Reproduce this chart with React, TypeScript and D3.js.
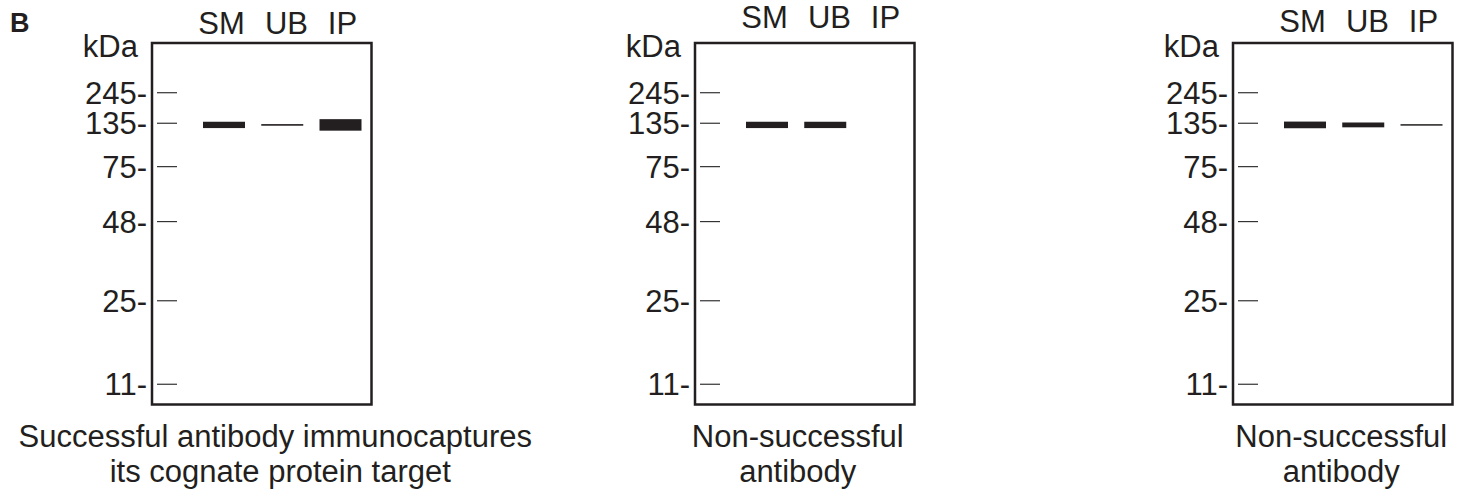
import React from "react";
import * as d3 from "d3";

// ---- data ----
const lanes = ["SM", "UB", "IP"];
const markerKDa = [245, 135, 75, 48, 25, 11];
// relative migration (0 = top of gel, 1 = bottom) of each marker
const markerRf = [0.1375, 0.222, 0.342, 0.494, 0.713, 0.944];
const bandKDa = 132;
// band intensity per lane (SM, UB, IP), relative units
const panel1Intensity = [0.55, 0.14, 1.0];
const panel2Intensity = [0.55, 0.55, 0];
const panel3Intensity = [0.58, 0.42, 0.13];
const panel1Caption = ["Successful antibody immunocaptures", "its cognate protein target"];
const panel2Caption = ["Non-successful", "antibody"];
const panel3Caption = ["Non-successful", "antibody"];
const panelLetter = "B";
const unitLabel = "kDa";

const W = 1468;
const H = 496;
const INK = "#231f20";
const FONT = "'Liberation Sans', Arial, Helvetica, sans-serif";
const FS = 31;

const boxTop = 43;
const boxBottom = 404.5;
const boxW = 219.5;

const yRf = d3.scaleLinear().domain([0, 1]).range([boxTop, boxBottom]);
const kdaToRf = d3.scaleLog().domain(markerKDa).range(markerRf);
const bandX = d3.scalePoint<string>().domain(lanes).range([72, 188.5]);
const labelX = d3.scaleOrdinal<string, number>().domain(lanes).range([69.5, 134.5, 190.5]);
const thickness = d3.scaleLinear().domain([0, 1]).range([0, 11.5]);
const BAND_W = 42;

type PanelProps = {
  left: number;
  intensity: number[];
  caption: string[];
  captionDx: number[];
  labelBaseline: number;
};

function Panel({ left, intensity, caption, captionDx, labelBaseline }: PanelProps) {
  const cx = left + boxW / 2;
  const bandY = yRf(kdaToRf(bandKDa));
  return (
    <g>
      {lanes.map((l) => (
        <text
          key={l}
          x={left + labelX(l)}
          y={labelBaseline}
          textAnchor="middle"
          fontSize={FS}
          fill={INK}
          fontFamily={FONT}
        >
          {l}
        </text>
      ))}
      <text x={left - 14} y={57} textAnchor="end" fontSize={FS} fill={INK} fontFamily={FONT}>
        {unitLabel}
      </text>
      <rect
        x={left}
        y={boxTop}
        width={boxW}
        height={boxBottom - boxTop}
        fill="none"
        stroke={INK}
        strokeWidth={2.5}
      />
      {markerKDa.map((k, i) => {
        const y = yRf(markerRf[i]);
        return (
          <g key={k}>
            <line x1={left + 5} x2={left + 25} y1={y} y2={y} stroke="#333" strokeWidth={1.2} />
            <text
              x={left - 5}
              y={y + 0.355 * FS}
              textAnchor="end"
              fontSize={FS}
              fill={INK}
              fontFamily={FONT}
            >
              {k + "-"}
            </text>
          </g>
        );
      })}
      {lanes.map((l, i) => {
        const t = thickness(intensity[i]);
        if (t <= 0) return null;
        return (
          <rect
            key={l}
            x={left + (bandX(l) as number) - BAND_W / 2}
            y={bandY - t / 2}
            width={BAND_W}
            height={t}
            fill={INK}
          />
        );
      })}
      {caption.map((c, i) => (
        <text
          key={i}
          x={cx + captionDx[i]}
          y={447 + i * 34.5}
          textAnchor="middle"
          fontSize={FS}
          fill={INK}
          fontFamily={FONT}
        >
          {c}
        </text>
      ))}
    </g>
  );
}

export default function App() {
  return (
    <svg
      width={W}
      height={H}
      viewBox={`0 0 ${W} ${H}`}
      style={{ position: "absolute", left: 0, top: 0, background: "#fff" }}
    >
      <rect x={0} y={0} width={W} height={H} fill="#fff" />
      <text x={10} y={32} fontSize={27} fontWeight="bold" fill={INK} fontFamily={FONT}>
        {panelLetter}
      </text>
      <Panel left={152} intensity={panel1Intensity} caption={panel1Caption} captionDx={[13.5, 18.5]} labelBaseline={34} />
      <Panel left={695} intensity={panel2Intensity} caption={panel2Caption} captionDx={[-7, -7]} labelBaseline={28} />
      <Panel left={1233} intensity={panel3Intensity} caption={panel3Caption} captionDx={[-1.5, -1.5]} labelBaseline={32} />
    </svg>
  );
}
